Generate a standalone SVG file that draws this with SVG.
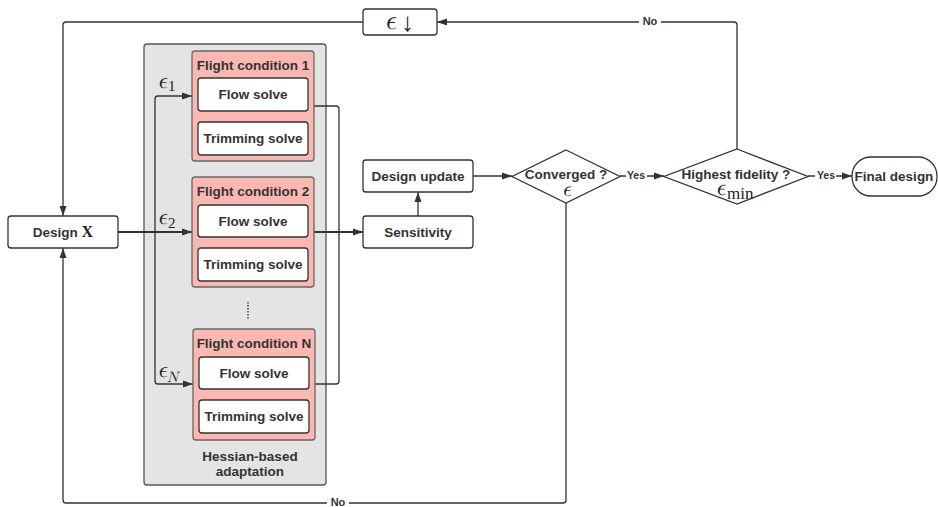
<svg xmlns="http://www.w3.org/2000/svg" width="938" height="507" viewBox="0 0 938 507">
<style>
  .box{fill:#fff;stroke:#333;stroke-width:1.3}
  .fc{fill:#fbb8b2;stroke:#666;stroke-width:1.3}
  .t{font-family:"Liberation Sans",Arial,sans-serif;font-weight:bold;font-size:13.5px;fill:#333;text-anchor:middle}
  .lab{font-family:"Liberation Sans",Arial,sans-serif;font-weight:bold;font-size:10.5px;fill:#333;text-anchor:middle}
  .m{font-family:"Latin Modern Math","DejaVu Serif","Liberation Serif",serif;font-style:italic;fill:#222}
  .mr{font-family:"Liberation Serif","DejaVu Serif",serif;fill:#222}
  .ln{fill:none;stroke:#333;stroke-width:1.3}
  .ln2{fill:none;stroke:#333;stroke-width:1.8}
</style>
<defs>
  <marker id="ah" markerWidth="11" markerHeight="8" refX="10" refY="4" orient="auto" markerUnits="userSpaceOnUse">
    <path d="M0,0.5 L10,4 L0,7.5 Z" fill="#333"/>
  </marker>
</defs>
<rect width="938" height="507" fill="#fff"/>

<g id="container">
  <rect x="144" y="44" width="182" height="441" rx="3" fill="#e4e4e4" stroke="#555" stroke-width="1.3"/>
  <text class="t" x="250" y="461">Hessian-based</text>
  <text class="t" x="250" y="476">adaptation</text>
  <line x1="248" y1="302" x2="248" y2="319" stroke="#444" stroke-width="1.5" stroke-dasharray="1.5,1.5"/>
</g>

<g id="connectors">
  <path class="ln2" d="M118,232 H192" marker-end="url(#ah)"/>
  <path class="ln" d="M155,232 V99 Q155,96 158,96 H192" marker-end="url(#ah)"/>
  <path class="ln" d="M155,232 V381 Q155,384 158,384 H193" marker-end="url(#ah)"/>
  <path class="ln" d="M308,106 H336 Q339,106 339,109 V381 Q339,384 336,384 H315"/>
  <path class="ln2" d="M308,232 H363" marker-end="url(#ah)"/>
  <path class="ln" d="M418,216 V192" marker-end="url(#ah)"/>
  <path class="ln" d="M473,176 H512" marker-end="url(#ah)"/>
  <path class="ln" d="M620,176 H664" marker-end="url(#ah)"/>
  <path class="ln" d="M808,176 H852" marker-end="url(#ah)"/>
  <path class="ln" d="M737,149 V25 Q737,22 734,22 H437" marker-end="url(#ah)"/>
  <path class="ln" d="M363,22 H66 Q63,22 63,25 V216" marker-end="url(#ah)"/>
  <path class="ln" d="M566,203 V500 Q566,503 563,503 H66 Q63,503 63,500 V248" marker-end="url(#ah)"/>
  <rect x="639" y="15" width="22" height="13" fill="#fff"/>
  <text class="lab" x="650" y="25" style="font-size:11px">No</text>
  <rect x="327" y="497" width="22" height="10" fill="#fff"/>
  <text class="lab" x="338" y="506" style="font-size:11px">No</text>
  <rect x="626" y="170" width="21" height="12" fill="#fff"/>
  <text class="lab" x="636" y="179">Yes</text>
  <rect x="815" y="170" width="21" height="12" fill="#fff"/>
  <text class="lab" x="826" y="179">Yes</text>
  <text class="m" x="157" y="88" font-size="23">ϵ</text><text class="mr" x="168" y="91" font-size="15">1</text>
  <text class="m" x="157" y="224" font-size="23">ϵ</text><text class="mr" x="168" y="228" font-size="15">2</text>
  <text class="m" x="157" y="377" font-size="23">ϵ</text><text class="m" x="167" y="382" font-size="15">N</text>
</g>

<g id="eps-down">
  <rect class="box" x="363" y="9" width="74" height="26" rx="3"/>
  <text class="m" x="384" y="29" font-size="27">ϵ</text>
  <text class="mr" x="401" y="31" font-size="26">↓</text>
</g>

<g id="design-x">
  <rect class="box" x="8" y="216" width="110" height="32" rx="3"/>
  <text class="t" x="63" y="237">Design <tspan style="font-family:'Liberation Serif',serif;font-size:16px;fill:#222">X</tspan></text>
</g>

<g id="fc1">
  <rect class="fc" x="192" y="51" width="122" height="110" rx="3"/>
  <text class="t" x="253" y="70">Flight condition 1</text>
  <rect class="box" x="198" y="78" width="110" height="33" rx="3"/>
  <text class="t" x="253" y="99">Flow solve</text>
  <rect class="box" x="198" y="122" width="110" height="33" rx="3"/>
  <text class="t" x="253" y="143">Trimming solve</text>
</g>

<g id="fc2">
  <rect class="fc" x="192" y="177" width="122" height="110" rx="3"/>
  <text class="t" x="253" y="196">Flight condition 2</text>
  <rect class="box" x="198" y="205" width="110" height="32" rx="3"/>
  <text class="t" x="253" y="226">Flow solve</text>
  <rect class="box" x="198" y="248" width="110" height="33" rx="3"/>
  <text class="t" x="253" y="269">Trimming solve</text>
</g>

<g id="fcN">
  <rect class="fc" x="193" y="329" width="122" height="111" rx="3"/>
  <text class="t" x="254" y="348">Flight condition N</text>
  <rect class="box" x="199" y="357" width="110" height="32" rx="3"/>
  <text class="t" x="254" y="378">Flow solve</text>
  <rect class="box" x="199" y="400" width="110" height="33" rx="3"/>
  <text class="t" x="254" y="421">Trimming solve</text>
</g>

<g id="design-update">
  <rect class="box" x="363" y="160" width="110" height="32" rx="3"/>
  <text class="t" x="418" y="181">Design update</text>
</g>

<g id="sensitivity">
  <rect class="box" x="363" y="216" width="110" height="32" rx="3"/>
  <text class="t" x="418" y="237">Sensitivity</text>
</g>

<g id="converged">
  <path class="box" d="M566,150 L620,176.5 L566,203 L512,176.5 Z"/>
  <text class="t" x="566" y="179">Converged ?</text>
  <text class="m" x="566" y="196" font-size="22" text-anchor="middle">ϵ</text>
</g>

<g id="highest">
  <path class="box" d="M737,149 L808,176.5 L737,204 L664,176.5 Z"/>
  <text class="t" x="736" y="179">Highest fidelity ?</text>
  <text class="m" x="715" y="195" font-size="24">ϵ</text><text class="mr" x="727" y="199" font-size="17">min</text>
</g>

<g id="final">
  <rect class="box" x="852" y="157" width="85" height="39" rx="19"/>
  <text class="t" x="894" y="181">Final design</text>
</g>
</svg>
